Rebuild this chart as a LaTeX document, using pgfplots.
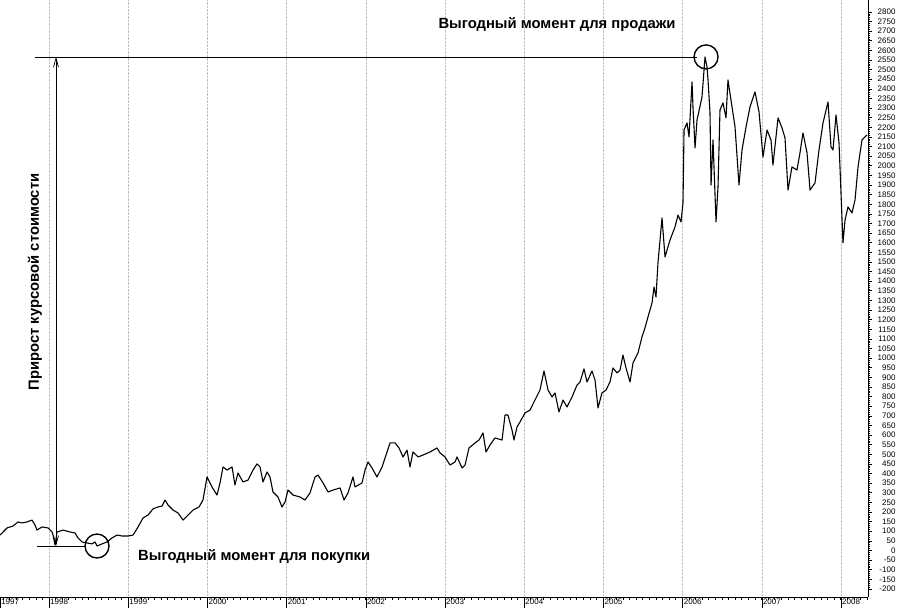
\documentclass[border=0pt]{standalone}
\usepackage{fontspec}
\setmainfont{Liberation Sans}
\usepackage{pgfplots}
\usepackage{pgfplotstable}
\pgfplotsset{compat=1.18}
\usetikzlibrary{arrows.meta}
\pgfplotstableread{
t v
1997.381 80
1997.470 117
1997.545 127
1997.609 148
1997.659 143
1997.722 148
1997.785 158
1997.823 132
1997.848 106
1997.912 122
1997.987 117
1998.038 96
1998.051 80
1998.076 28
1998.101 96
1998.177 106
1998.265 96
1998.328 91
1998.366 65
1998.417 44
1998.480 39
1998.543 34
1998.581 44
1998.606 23
1998.669 34
1998.732 44
1998.795 65
1998.859 80
1998.922 75
1998.997 75
1999.061 80
1999.124 122
1999.187 169
1999.250 184
1999.313 216
1999.376 226
1999.427 231
1999.465 262
1999.503 236
1999.566 210
1999.629 195
1999.692 158
1999.755 184
1999.818 210
1999.894 226
1999.944 262
1999.995 382
2000.058 330
2000.121 288
2000.159 351
2000.197 434
2000.247 418
2000.311 434
2000.348 340
2000.386 403
2000.449 356
2000.513 366
2000.576 418
2000.626 450
2000.664 434
2000.702 356
2000.753 408
2000.790 382
2000.828 304
2000.891 278
2000.942 226
2000.980 252
2001.018 314
2001.081 288
2001.169 278
2001.232 262
2001.295 299
2001.359 382
2001.396 392
2001.460 351
2001.523 304
2001.586 314
2001.674 325
2001.725 262
2001.775 299
2001.838 382
2001.864 330
2001.952 351
2001.990 418
2002.028 460
2002.078 429
2002.141 382
2002.205 434
2002.268 512
2002.306 559
2002.369 559
2002.419 533
2002.470 486
2002.520 522
2002.558 434
2002.596 512
2002.659 486
2002.722 496
2002.811 512
2002.899 533
2002.937 507
2003.000 486
2003.063 444
2003.126 460
2003.152 486
2003.215 429
2003.253 444
2003.303 533
2003.379 559
2003.429 574
2003.480 611
2003.518 512
2003.568 548
2003.631 585
2003.720 574
2003.758 704
2003.795 704
2003.846 626
2003.871 574
2003.909 642
2003.947 668
2004.010 715
2004.073 730
2004.136 782
2004.199 834
2004.250 933
2004.301 834
2004.351 798
2004.389 819
2004.439 720
2004.490 782
2004.540 746
2004.604 798
2004.667 860
2004.705 876
2004.755 944
2004.793 876
2004.856 933
2004.894 886
2004.932 741
2004.982 819
2005.033 834
2005.083 876
2005.121 949
2005.172 923
2005.210 938
2005.247 1016
2005.285 949
2005.336 876
2005.374 975
2005.437 1027
2005.487 1110
2005.525 1157
2005.563 1214
2005.614 1287
2005.639 1370
2005.664 1318
2005.689 1495
2005.715 1614
2005.740 1729
2005.778 1526
2005.841 1614
2005.904 1682
2005.942 1744
2005.980 1708
2006.005 1807
2006.018 2186
2006.056 2223
2006.081 2150
2006.119 2436
2006.131 2306
2006.157 2093
2006.182 2238
2006.245 2358
2006.283 2566
2006.308 2514
2006.321 2446
2006.346 2275
2006.359 1900
2006.384 2134
2006.422 1708
2006.447 1890
2006.472 2290
2006.510 2327
2006.548 2249
2006.573 2446
2006.624 2306
2006.662 2202
2006.712 1900
2006.750 2082
2006.801 2202
2006.851 2306
2006.914 2384
2006.965 2280
2007.015 2046
2007.066 2186
2007.116 2134
2007.141 2004
2007.205 2249
2007.255 2197
2007.293 2145
2007.331 1874
2007.381 1994
2007.444 1978
2007.482 2067
2007.520 2171
2007.571 2067
2007.609 1874
2007.672 1911
2007.722 2082
2007.773 2223
2007.836 2332
2007.874 2098
2007.899 2082
2007.937 2264
2007.975 2119
2008.025 1599
2008.051 1718
2008.088 1786
2008.139 1755
2008.177 1822
2008.215 1994
2008.265 2134
2008.303 2150
2008.328 2160
}\price
\begin{document}
\begin{tikzpicture}[x=1pt,y=1pt]
\useasboundingbox (0,-12) rectangle (900,597);
\begin{axis}[
  at={(0,0)}, anchor=south west,
  scale only axis, width=868pt, height=597pt,
  xmin=1997.381, xmax=2008.341, ymin=-242, ymax=2862,
  axis x line=bottom, axis y line=right,
  axis line style={-, black, line width=0.8pt},
  clip=false,
  tick align=outside,
  xtick={1998,1999,2000,2001,2002,2003,2004,2005,2006,2007,2008},
  xticklabels={1998,1999,2000,2001,2002,2003,2004,2005,2006,2007,2008},
  extra x ticks={1997.381},
  extra x tick labels={1997},
  extra x tick style={grid=none},
  minor xtick={1997.4167,1997.5,...,2008.34},
  xtick style={black, line width=0.6pt, /pgfplots/major tick length=11pt, /pgfplots/minor tick length=3pt},
  xticklabel style={anchor=north west, inner sep=1pt, yshift=4pt, font=\fontsize{8}{9}\selectfont},
  ytick={-200,-150,...,2800},
  minor y tick num=4,
  ytick style={black, line width=0.6pt, /pgfplots/major tick length=4pt, /pgfplots/minor tick length=2pt},
  yticklabel style={anchor=west, text width=22pt, align=right, inner sep=1pt, font=\fontsize{8}{9}\selectfont},
  /pgf/number format/1000 sep={},
  /pgf/number format/assume math mode=true,
  xmajorgrids,
  major grid style={gray!50, densely dotted, line width=0.6pt},
]
\addplot[black, line width=1.1pt, line join=round] table[x=t, y=v] {\price};

% annotations
\draw[line width=0.8pt] (axis cs:1997.823,2566) -- (axis cs:2006.182,2566);
\draw[line width=0.8pt] (axis cs:1997.848,23) -- (axis cs:1998.455,23);
\draw[line width=0.7pt, {Straight Barb[length=9pt,width=5pt]}-{Straight Barb[length=9pt,width=5pt]}]
  (axis cs:1998.088,23) -- (axis cs:1998.088,2566);
\draw[line width=1.4pt] (axis cs:1998.606,23) circle[radius=12pt];
\draw[line width=1.4pt] (axis cs:2006.296,2566) circle[radius=12pt];
\node[font=\fontsize{14.8}{17}\selectfont\bfseries] at (axis cs:2004.414,2732) {Выгодный момент для продажи};
\node[font=\fontsize{14.8}{17}\selectfont\bfseries, anchor=west, inner sep=0pt] at (axis cs:1999.124,-34) {Выгодный момент для покупки};
\node[font=\fontsize{14.8}{17}\selectfont\bfseries, rotate=90] at (axis cs:1997.823,1396) {Прирост курсовой стоимости};
\end{axis}
\end{tikzpicture}
\end{document}
